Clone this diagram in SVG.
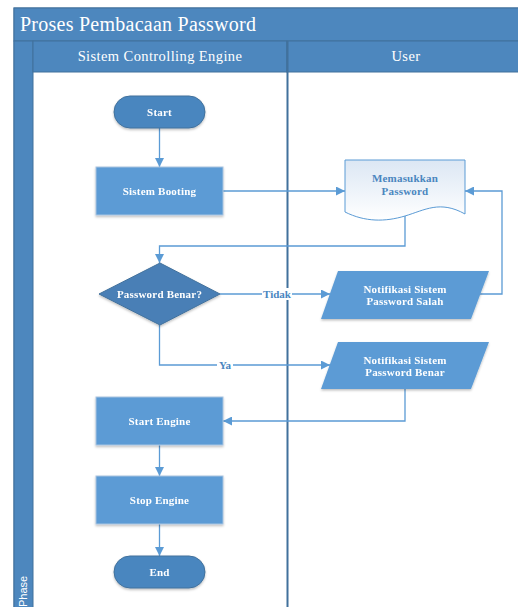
<svg xmlns="http://www.w3.org/2000/svg" width="518" height="607" viewBox="0 0 518 607">
  <style>
    .band { fill: #4d87be; stroke: #41719c; stroke-width: 1; }
    .title { font-family: "Liberation Serif", serif; font-size: 20px; letter-spacing: 0.25px; fill: #ffffff; }
    .lane { font-family: "Liberation Serif", serif; font-size: 14.5px; letter-spacing: 0.4px; fill: #ffffff; }
    .proc { fill: #5b9bd5; stroke: #a9c4e0; stroke-width: 1; }
    .term { fill: #4a86bf; stroke: #41719c; stroke-width: 1; }
    .dec { fill: #4a7fb6; stroke: #41719c; stroke-width: 1; }
    .io { fill: #5b9bd5; stroke: none; }
    .lbl { font-family: "Liberation Serif", serif; font-size: 11px; font-weight: bold; letter-spacing: 0.2px; fill: #ffffff; text-anchor: middle; }
    .doclbl { font-family: "Liberation Serif", serif; font-size: 11px; font-weight: bold; letter-spacing: 0.2px; fill: #4a86bf; text-anchor: middle; }
    .edge { fill: none; stroke: #5b9bd5; stroke-width: 1.3; }
    .elbl { font-family: "Liberation Serif", serif; font-size: 11px; font-weight: bold; fill: #4a86bf; text-anchor: middle; }
  </style>
  <defs>
    <marker id="arr" viewBox="0 0 10 10" refX="10" refY="5" markerWidth="9" markerHeight="9" markerUnits="userSpaceOnUse" orient="auto">
      <path d="M0,0 L10,5 L0,10 z" fill="#5b9bd5"/>
    </marker>
    <linearGradient id="docfill" x1="0" y1="0" x2="0" y2="1">
      <stop offset="0" stop-color="#dce7f4"/>
      <stop offset="1" stop-color="#ffffff"/>
    </linearGradient>
    <filter id="sh" x="-10%" y="-10%" width="130%" height="140%">
      <feDropShadow dx="0" dy="1.5" stdDeviation="1.2" flood-color="#000000" flood-opacity="0.25"/>
    </filter>
  </defs>

  <!-- pool frame -->
  <g id="pool">
    <rect x="14" y="8" width="510" height="610" fill="#ffffff" stroke="#41719c"/>
    <rect class="band" x="14" y="8" width="510" height="33"/>
    <text class="title" x="20" y="31">Proses Pembacaan Password</text>
    <rect class="band" x="14" y="41" width="19" height="570"/>
    <text x="27" y="607" transform="rotate(-90 27 607)" font-family="Liberation Sans, sans-serif" font-size="11" fill="#ffffff">Phase</text>
  </g>

  <!-- lanes -->
  <g id="lane-sistem">
    <rect class="band" x="33" y="41" width="254" height="31"/>
    <text class="lane" x="160" y="61" text-anchor="middle">Sistem Controlling Engine</text>
  </g>
  <g id="lane-user">
    <rect class="band" x="287" y="41" width="240" height="31"/>
    <text class="lane" x="406" y="61" text-anchor="middle">User</text>
  </g>
  <line x1="287.5" y1="41" x2="287.5" y2="607" stroke="#41719c" stroke-width="2"/>

  <!-- connectors -->
  <g id="connectors">
    <path class="edge" d="M159.5,128 V167" marker-end="url(#arr)"/>
    <path class="edge" d="M223,191 H345" marker-end="url(#arr)"/>
    <path class="edge" d="M405,216 V246 H159.5 V263" marker-end="url(#arr)"/>
    <path class="edge" d="M220,294 H330" marker-end="url(#arr)"/>
    <path class="edge" d="M476,294 H502 V191 H465" marker-end="url(#arr)"/>
    <path class="edge" d="M159.5,325 V365 H330" marker-end="url(#arr)"/>
    <path class="edge" d="M405,389 V421 H223" marker-end="url(#arr)"/>
    <path class="edge" d="M159.5,445 V476" marker-end="url(#arr)"/>
    <path class="edge" d="M159.5,524 V556" marker-end="url(#arr)"/>
    <rect x="262" y="288" width="30" height="12" fill="#ffffff"/>
    <text class="elbl" x="277" y="298">Tidak</text>
    <rect x="217" y="359" width="16" height="12" fill="#ffffff"/>
    <text class="elbl" x="225" y="369">Ya</text>
  </g>

  <!-- nodes -->
  <g id="start" filter="url(#sh)">
    <rect class="term" x="114" y="96" width="91" height="32" rx="16"/>
    <text class="lbl" x="159.5" y="116">Start</text>
  </g>
  <g id="booting" filter="url(#sh)">
    <rect class="proc" x="96" y="167" width="127" height="48"/>
    <text class="lbl" x="159.5" y="195">Sistem Booting</text>
  </g>
  <g id="memasukkan">
    <path d="M345,160 H465 V214 C440,200 425,210 405,216 C385,222 365,222 345,212 Z" fill="url(#docfill)" stroke="#5b9bd5" stroke-width="1"/>
    <text class="doclbl" x="405" y="182">Memasukkan</text>
    <text class="doclbl" x="405" y="195">Password</text>
  </g>
  <g id="cek" filter="url(#sh)">
    <polygon class="dec" points="160,263 220,294 160,325 99,294"/>
    <text class="lbl" x="159.5" y="298">Password Benar?</text>
  </g>
  <g id="salah" filter="url(#sh)">
    <polygon class="io" points="338,271 489,271 471,319 321,319"/>
    <text class="lbl" x="405" y="293">Notifikasi Sistem</text>
    <text class="lbl" x="405" y="305">Password Salah</text>
  </g>
  <g id="benar" filter="url(#sh)">
    <polygon class="io" points="338,342 489,342 471,389 321,389"/>
    <text class="lbl" x="405" y="364">Notifikasi Sistem</text>
    <text class="lbl" x="405" y="376">Password Benar</text>
  </g>
  <g id="startengine" filter="url(#sh)">
    <rect class="proc" x="96" y="397" width="127" height="48"/>
    <text class="lbl" x="159.5" y="425">Start Engine</text>
  </g>
  <g id="stopengine" filter="url(#sh)">
    <rect class="proc" x="96" y="476" width="127" height="48"/>
    <text class="lbl" x="159.5" y="504">Stop Engine</text>
  </g>
  <g id="end" filter="url(#sh)">
    <rect class="term" x="114" y="556" width="91" height="32" rx="16"/>
    <text class="lbl" x="159.5" y="576">End</text>
  </g>
</svg>
